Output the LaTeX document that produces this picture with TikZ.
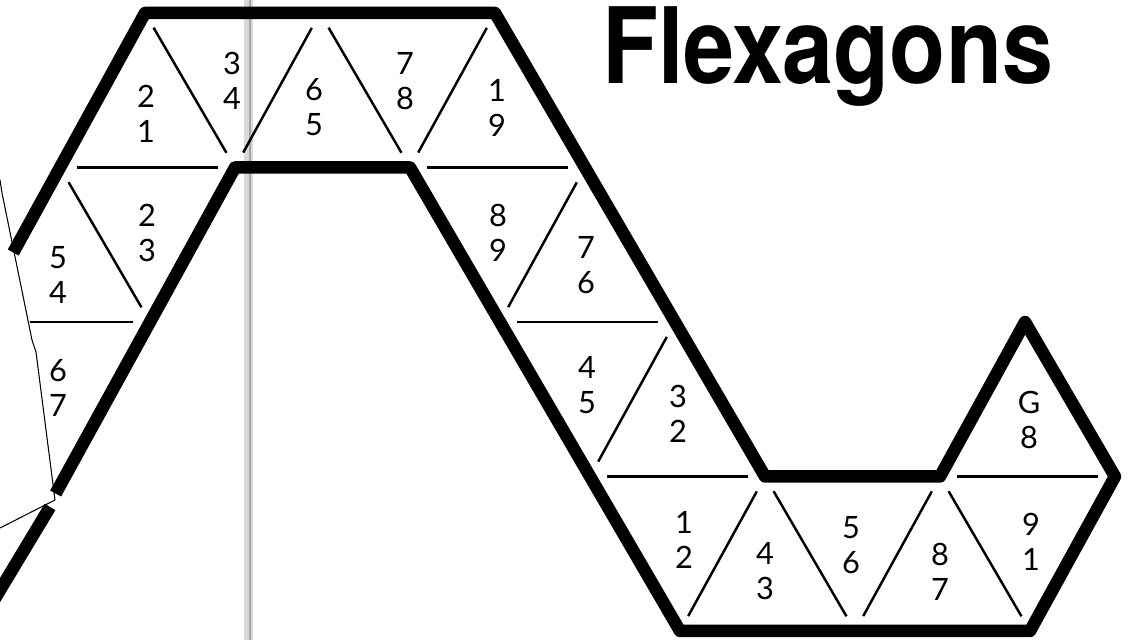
\documentclass[tikz,border=0pt]{standalone}
\usepackage{fontspec}
\newfontfamily\facefont{Lato}
\newfontfamily\titlefont{TeX Gyre Heros}

\tikzset{
  outline/.style={line width=0.25cm, line join=round},
  fold/.style={line width=1.4pt, shorten <=0.34cm, shorten >=0.34cm},
  face/.style={font=\facefont\fontsize{17.5}{19.6}\selectfont, align=center, inner sep=0pt},
  crease/.style={gray!30, line width=0.18cm},
  tear/.style={line width=0.6pt, line join=round}
}

\begin{document}
\begin{tikzpicture}
\useasboundingbox (0,0) rectangle (22.72,12.8);
% crease of the sheet
\draw[crease] (4.96,0) -- (4.96,12.8);
\draw[gray!70, line width=0.6pt] (5.0,0) -- (5.0,12.8);
% torn corner
\draw[tear] (0,9.2) -- (0.04,8.94) -- (0.64,6.0) -- (0.72,5.76) -- (1.10,2.80) -- (0,2.24);
\draw[outline] (1.0,2.66) -- (-0.3,0.5);
% the strip, on the triangle grid
\begin{scope}[shift={(3.10cm,0.18cm)}, x={(1.75cm,0cm)}, y={(-0.05cm,3.09cm)}]
\draw[outline] (-1.55,2.45) -- (0,4) -- (4,4) -- (7,1) -- (9,1) -- (10,2) -- (11,1)
  -- (10,0) -- (6,0) -- (3,3) -- (1,3) -- (-1.11,0.89);
% folds
\draw[fold] (0,4) -- (1,3);
\draw[fold] (2,4) -- (1,3);
\draw[fold] (2,4) -- (3,3);
\draw[fold] (4,4) -- (3,3);
\draw[fold] (-1,3) -- (1,3);
\draw[fold] (3,3) -- (5,3);
\draw[fold] (-1,3) -- (0,2);
\draw[fold] (4,2) -- (5,3);
\draw[fold, shorten <=0pt] (-1.37,2) -- (0,2);
\draw[fold] (4,2) -- (6,2);
\draw[fold] (5,1) -- (6,2);
\draw[fold] (5,1) -- (7,1);
\draw[fold] (7,1) -- (6,0);
\draw[fold] (7,1) -- (8,0);
\draw[fold] (9,1) -- (8,0);
\draw[fold] (9,1) -- (10,0);
\draw[fold] (9,1) -- (11,1);
\end{scope}
% faces, top row
\node[face] (f21) at (2.92,10.52) {2\\1};
\node[face] (f34) at (4.64,11.18) {3\\4};
\node[face] (f65) at (6.28,10.66) {6\\5};
\node[face] (f78) at (8.10,11.18) {7\\8};
\node[face] (f19) at (9.94,10.64) {1\\9};
% faces, left arm
\node[face] (f23) at (2.94,8.14) {2\\3};
\node[face] (f54) at (1.16,7.30) {5\\4};
\node[face] (f67) at (1.16,5.04) {6\\7};
% faces, right arm
\node[face] (f89) at (9.96,8.14) {8\\9};
\node[face] (f76) at (11.72,7.50) {7\\6};
\node[face] (f45) at (11.74,5.10) {4\\5};
\node[face] (f32) at (13.56,4.52) {3\\2};
% faces, bottom row
\node[face] (f12) at (13.68,2.00) {1\\2};
\node[face] (f43) at (15.30,1.38) {4\\3};
\node[face] (f56) at (17.02,1.90) {5\\6};
\node[face] (f87) at (18.80,1.36) {8\\7};
\node[face] (f91) at (20.62,1.96) {9\\1};
\node[face] (fG8) at (20.58,4.40) {G\\8};
% title
\node[anchor=base, inner sep=0pt, font=\titlefont\bfseries\fontsize{60}{62}\selectfont]
  (title) at (16.55,11.12) {\scalebox{0.87}[1]{Flexagons}};
\end{tikzpicture}
\end{document}
